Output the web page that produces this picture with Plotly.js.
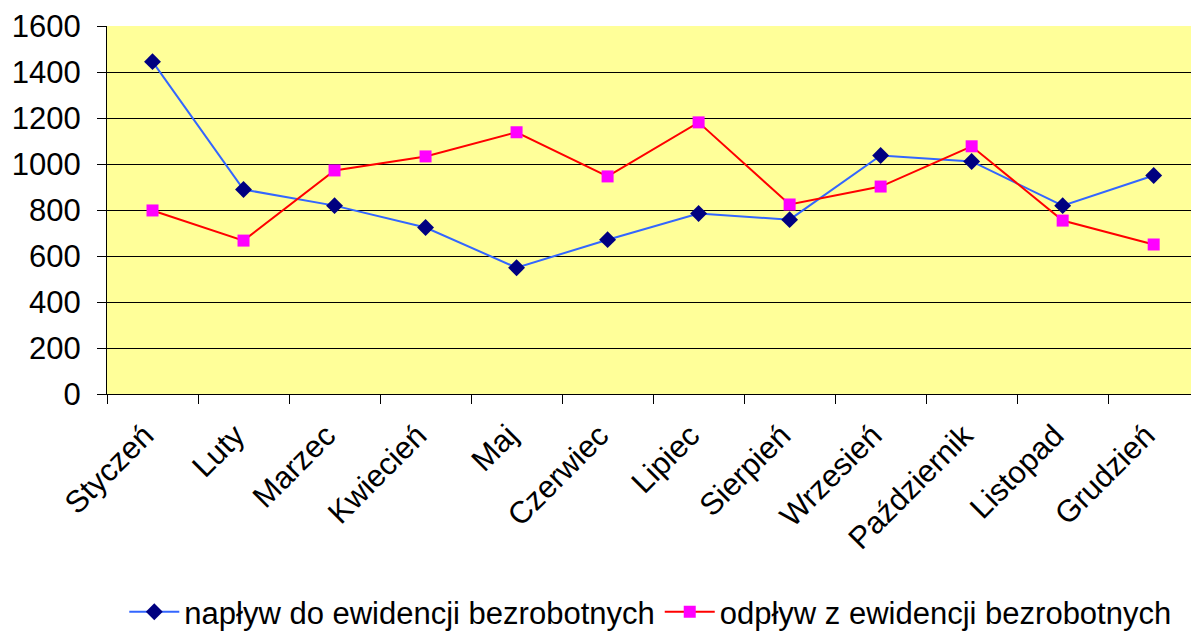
<!DOCTYPE html>
<html>
<head>
<meta charset="utf-8">
<script src="https://cdn.plot.ly/plotly-3.0.1.min.js"></script>
<style>html,body{margin:0;padding:0;background:#fff;}#chart{width:1191px;height:633px;}</style>
</head>
<body>
<div id="chart"></div>
<script>
const months = ["Styczeń","Luty","Marzec","Kwiecień","Maj","Czerwiec","Lipiec","Sierpień","Wrzesień","Październik","Listopad","Grudzień"];
const naplyw = [1445, 889, 819, 724, 549, 671, 785, 758, 1037, 1011, 819, 950];
const odplyw = [798, 667, 972, 1033, 1138, 946, 1181, 824, 902, 1077, 754, 650];
const seriesNames = ["napływ do ewidencji bezrobotnych", "odpływ z ewidencji bezrobotnych"];
const yTicks = [0, 200, 400, 600, 800, 1000, 1200, 1400, 1600];

const font = "Liberation Sans, Arial, sans-serif";

const traces = [
  {x: months, y: naplyw, name: seriesNames[0], type: "scatter", mode: "lines+markers",
   line: {color: "#3366FF", width: 2},
   marker: {symbol: "diamond", color: "#000080", size: 13}},
  {x: months, y: odplyw, name: seriesNames[1], type: "scatter", mode: "lines+markers",
   line: {color: "#FF0000", width: 2},
   marker: {symbol: "square", color: "#FF00FF", size: 12}}
];

const layout = {
  width: 1191, height: 633,
  margin: {l: 107, r: 0, t: 26, b: 239},
  paper_bgcolor: "#FFFFFF",
  plot_bgcolor: "#FFFF99",
  font: {family: font, size: 31, color: "#000"},
  showlegend: true,
  legend: {orientation: "h", xref: "container", yref: "container", x: 0.546, y: 0.033,
           xanchor: "center", yanchor: "middle", font: {size: 31, family: font},
           itemwidth: 50, bgcolor: "rgba(0,0,0,0)"},
  xaxis: {type: "category", range: [-0.5, 11.41], tickson: "boundaries",
          ticks: "outside", ticklen: 9, tickcolor: "#000", tickwidth: 1,
          showline: true, linecolor: "#000", linewidth: 1,
          showgrid: false, tickangle: -45, fixedrange: true,
          ticklabelstandoff: 10, ticklabelshift: -8,
          tickfont: {size: 31, family: font}},
  yaxis: {range: [0, 1600], tickvals: yTicks, ticks: "outside", ticklen: 9,
          tickcolor: "#000", showline: true, linecolor: "#000", linewidth: 1,
          showgrid: true, gridcolor: "#000", gridwidth: 1, zeroline: false,
          ticklabelstandoff: 10,
          tickfont: {size: 31, family: font}, fixedrange: true}
};

Plotly.newPlot("chart", traces, layout, {displayModeBar: false, staticPlot: true});
</script>
</body>
</html>
